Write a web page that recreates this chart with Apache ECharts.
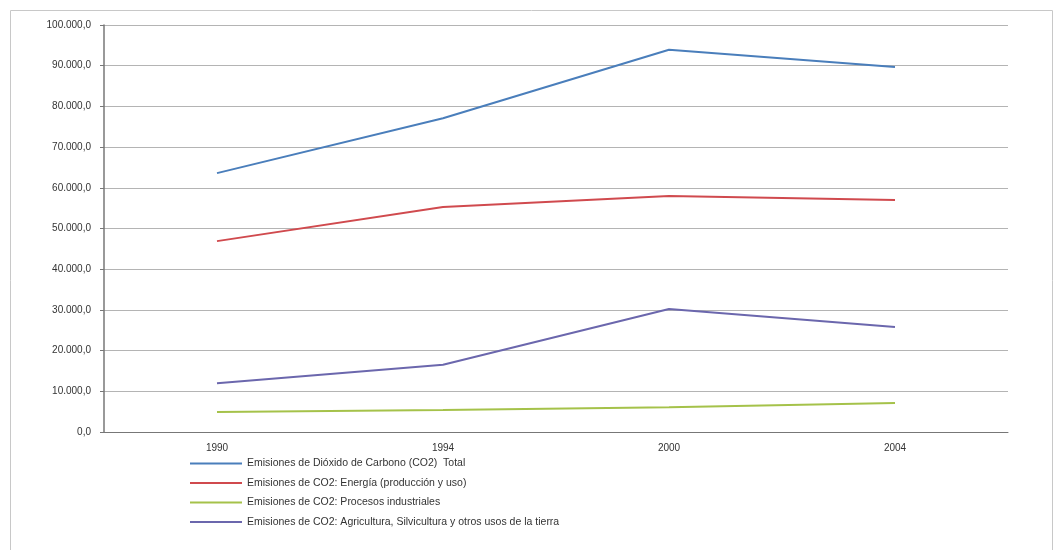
<!DOCTYPE html>
<html><head><meta charset="utf-8">
<script src="https://cdn.jsdelivr.net/npm/echarts@6/dist/echarts.min.js"></script>
<style>html,body{margin:0;padding:0;background:#fff}#c{width:1064px;height:550px}</style>
</head><body><div id="c"></div>
<script>
const categories = ['1990', '1994', '2000', '2004'];
const seriesNames = [
  'Emisiones de Dióxido de Carbono (CO2)  Total',
  'Emisiones de CO2: Energía (producción y uso)',
  'Emisiones de CO2: Procesos industriales',
  'Emisiones de CO2: Agricultura, Silvicultura y otros usos de la tierra'
];
const totalValues = [63600, 77100, 93900, 89700];
const energiaValues = [46900, 55300, 58000, 57000];
const procesosValues = [4900, 5400, 6100, 7100];
const agriculturaValues = [12000, 16500, 30200, 25800];
const colors = ['#4a7ebb', '#d04a4e', '#a5c24a', '#6b67ad'];

function fmt(v) {
  const s = Math.round(v).toString().replace(/\B(?=(\d{3})+(?!\d))/g, '.');
  return s + ',0';
}

const chart = echarts.init(document.getElementById('c'));
const data = [totalValues, energiaValues, procesosValues, agriculturaValues];
chart.setOption({
  animation: false,
  textStyle: { fontFamily: 'Liberation Sans, Arial, sans-serif' },
  graphic: [
    { type: 'rect', shape: { x: 10.5, y: 10.5, width: 1042, height: 545 }, style: { fill: 'none', stroke: '#c8c8c8', lineWidth: 1 } }
  ],
  grid: { left: 104, right: 56, top: 25, bottom: 118 },
  legend: {
    orient: 'vertical', left: 185, top: 453, itemGap: 8.5,
    itemWidth: 52, itemHeight: 10, icon: 'path://M0,4 L52,4 L52,6 L0,6 Z',
    textStyle: { fontSize: 10.5, color: '#333' },
    data: seriesNames
  },
  xAxis: {
    type: 'category', data: categories, boundaryGap: true,
    axisLine: { lineStyle: { color: '#777', width: 1 } },
    axisTick: { show: false },
    axisLabel: { fontSize: 10, color: '#333', margin: 11 }
  },
  yAxis: {
    type: 'value', min: 0, max: 100000, interval: 10000,
    axisLine: { show: true, lineStyle: { color: '#777', width: 1.5 } },
    axisTick: { show: true, length: 4, lineStyle: { color: '#777' } },
    splitLine: { lineStyle: { color: '#b4b4b4', width: 1 } },
    axisLabel: { fontSize: 10, color: '#333', margin: 13, formatter: fmt }
  },
  series: data.map((d, i) => ({
    name: seriesNames[i], type: 'line', data: d,
    symbol: 'none', lineStyle: { width: 2, color: colors[i] },
    itemStyle: { color: colors[i] }
  }))
});
</script></body></html>
